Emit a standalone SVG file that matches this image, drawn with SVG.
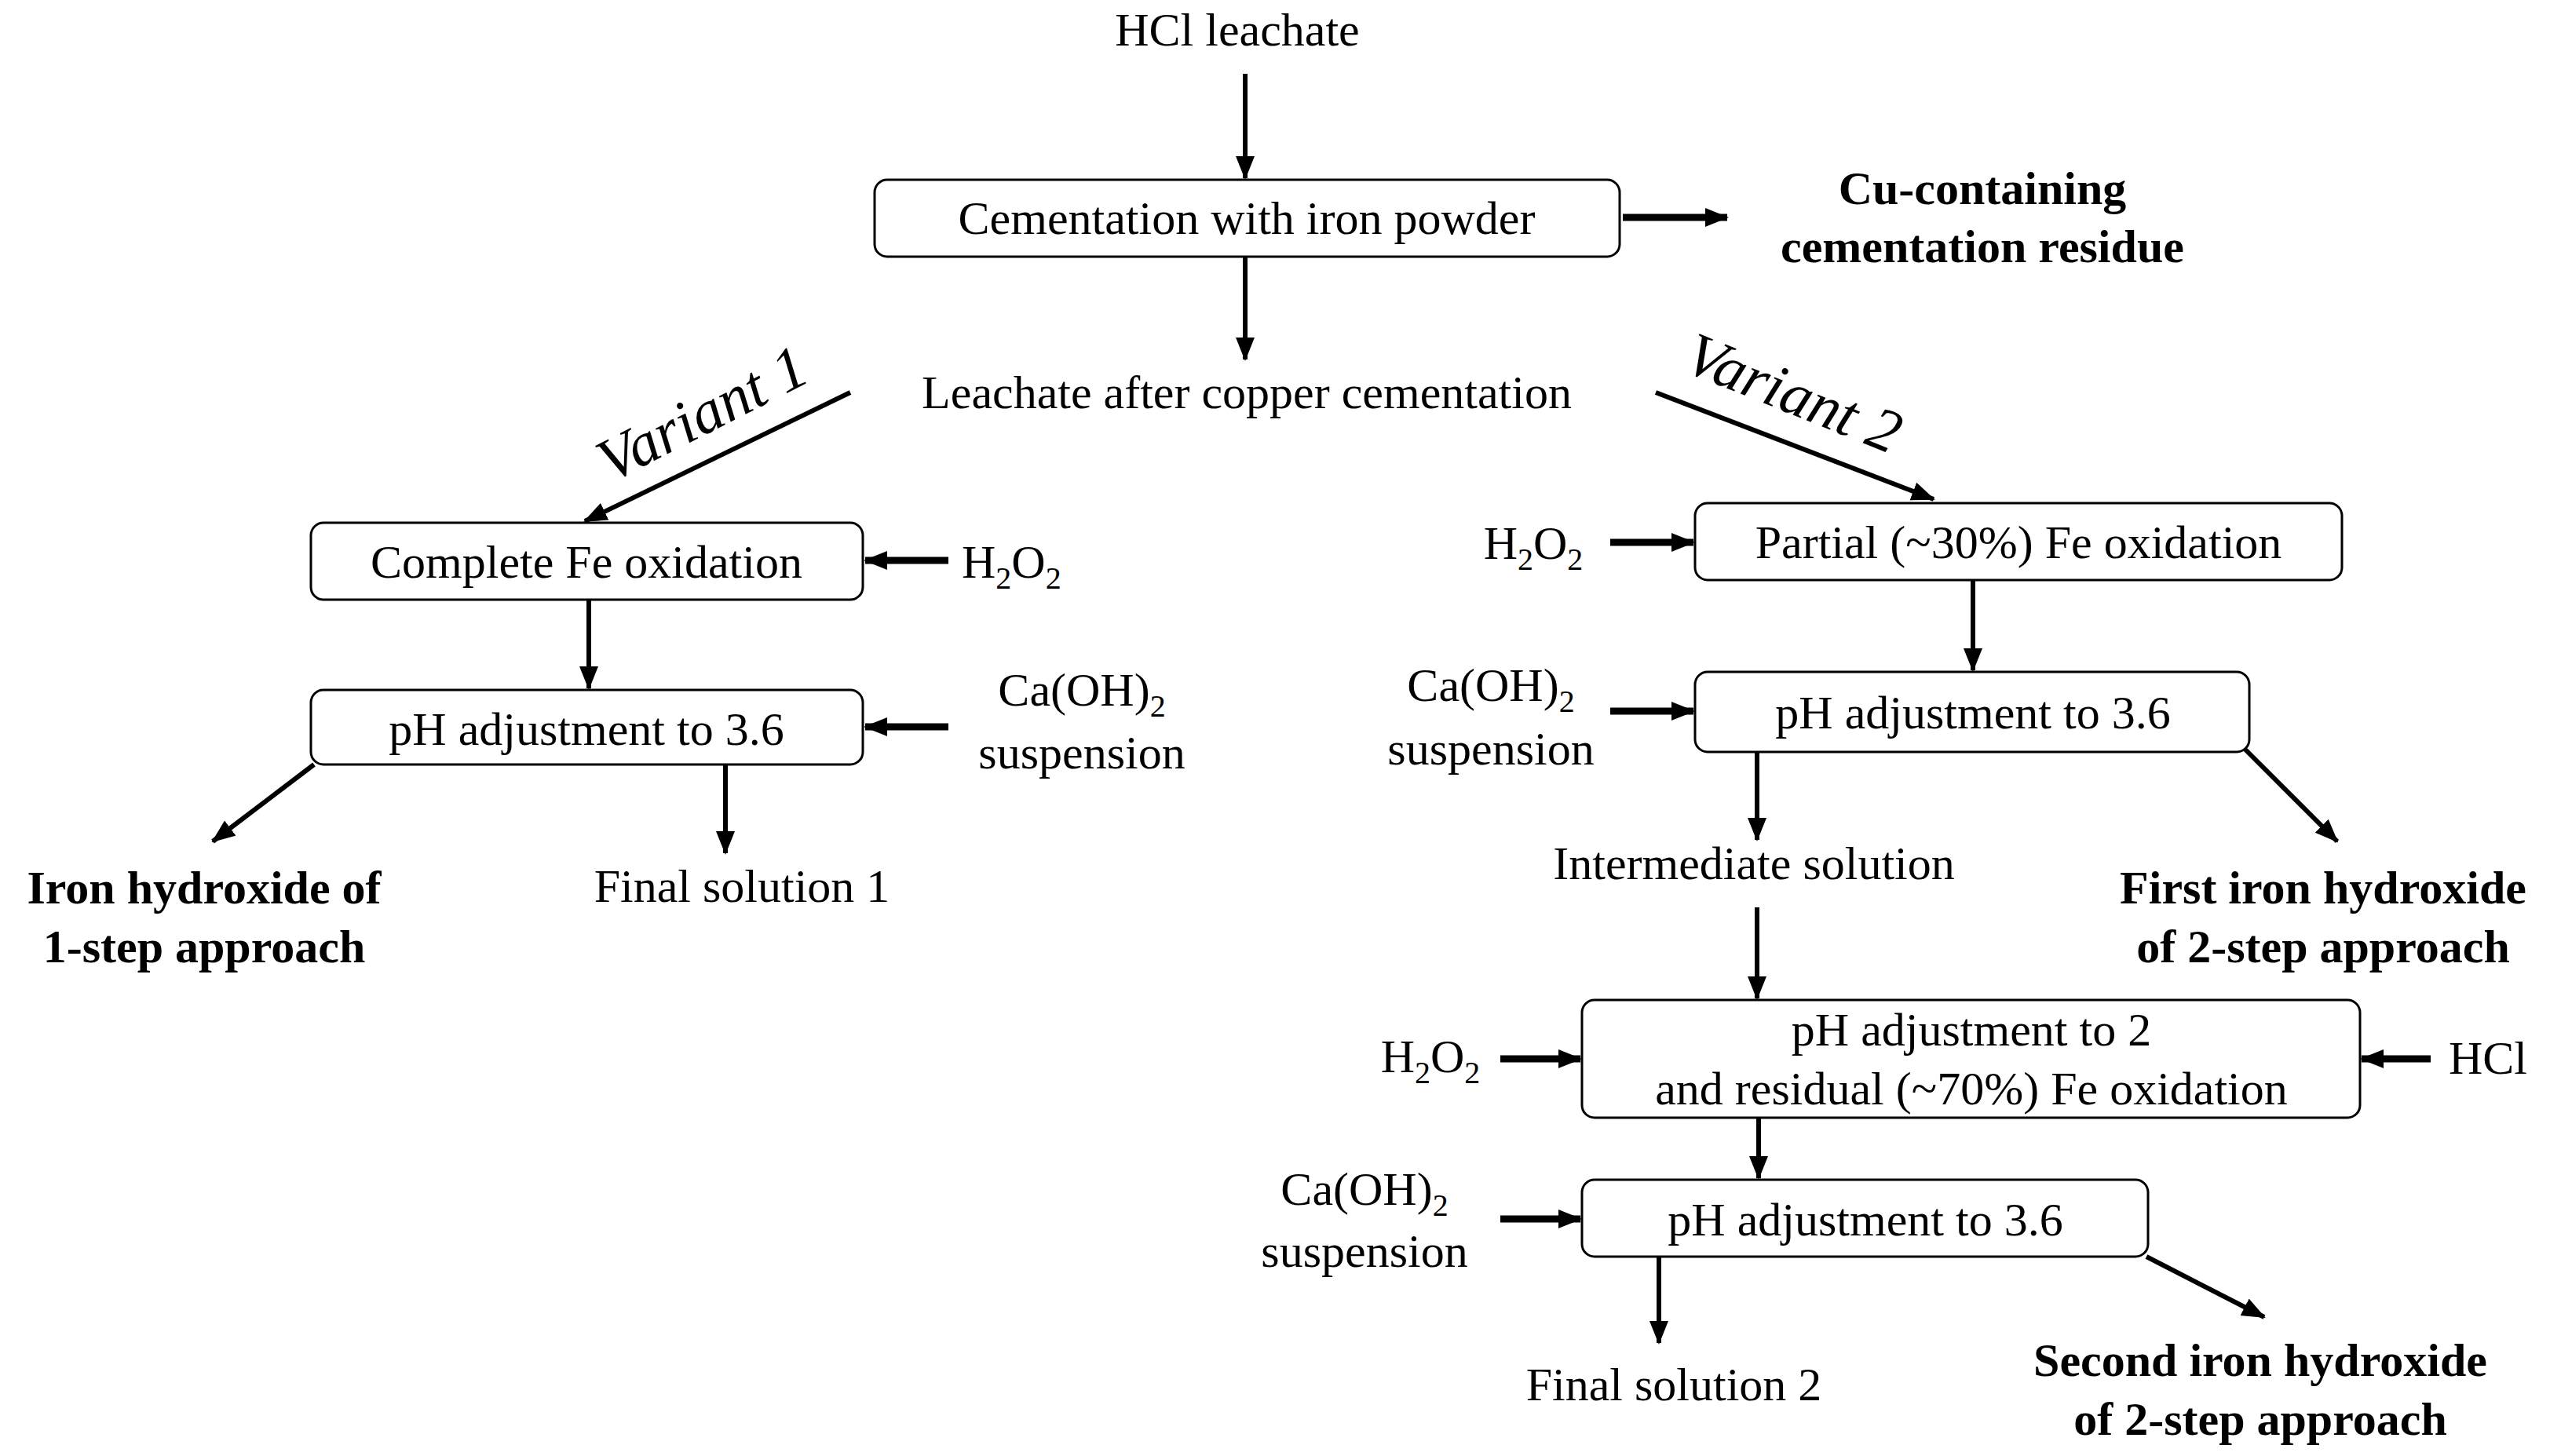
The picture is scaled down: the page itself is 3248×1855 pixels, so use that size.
<svg xmlns="http://www.w3.org/2000/svg" width="3248" height="1855" viewBox="0 0 3248 1855">
<style>
text{font-family:"Liberation Serif","Times New Roman",serif;font-size:60px;fill:#000;text-anchor:middle}
.b{font-weight:bold}
.v{font-style:italic;font-size:78px}
.s{font-size:40px}
.box{fill:#fff;stroke:#000;stroke-width:3}
.c line{stroke:#000;stroke-width:6;marker-end:url(#ah)}
.c line.t{stroke-width:9}
</style>
<defs>
<marker id="ah" markerUnits="userSpaceOnUse" markerWidth="30" markerHeight="30" refX="28" refY="12" orient="auto"><path d="M0,0 L30,12 L0,24 Z" fill="#000"/></marker>
</defs>
<rect width="3248" height="1855" fill="#fff"/>
<g class="c" id="connectors">
<line x1="1586" y1="94" x2="1586" y2="227"/>
<line class="t" x1="2067" y1="277" x2="2200" y2="277"/>
<line x1="1586" y1="327" x2="1586" y2="458"/>
<line x1="1083" y1="500" x2="745" y2="664"/>
<line x1="2109" y1="500" x2="2463" y2="636"/>
<line class="t" x1="1208" y1="714" x2="1102" y2="714"/>
<line x1="750" y1="764" x2="750" y2="877"/>
<line class="t" x1="1208" y1="926" x2="1102" y2="926"/>
<line x1="400" y1="974" x2="271" y2="1072"/>
<line x1="924" y1="974" x2="924" y2="1087"/>
<line class="t" x1="2051" y1="691" x2="2157" y2="691"/>
<line x1="2513" y1="739" x2="2513" y2="854"/>
<line class="t" x1="2051" y1="906" x2="2157" y2="906"/>
<line x1="2238" y1="958" x2="2238" y2="1070"/>
<line x1="2859" y1="954" x2="2977" y2="1072"/>
<line x1="2238" y1="1156" x2="2238" y2="1272"/>
<line class="t" x1="1911" y1="1349" x2="2013" y2="1349"/>
<line class="t" x1="3096" y1="1349" x2="3008" y2="1349"/>
<line x1="2240" y1="1424" x2="2240" y2="1501"/>
<line class="t" x1="1911" y1="1553" x2="2013" y2="1553"/>
<line x1="2113" y1="1601" x2="2113" y2="1711"/>
<line x1="2734" y1="1601" x2="2884" y2="1678"/>
</g>
<g id="hcl-leachate"><text x="1576" y="58">HCl leachate</text></g>
<g id="cementation"><rect class="box" x="1114" y="229" width="949" height="98" rx="16"/><text x="1588" y="298">Cementation with iron powder</text></g>
<g id="cu-residue"><text class="b" x="2525" y="260">Cu-containing</text><text class="b" x="2525" y="334">cementation residue</text></g>
<g id="leachate-after"><text x="1588" y="520">Leachate after copper cementation</text></g>
<g id="variant1"><text class="v" transform="translate(906,550) rotate(-27)">Variant 1</text></g>
<g id="variant2"><text class="v" transform="translate(2275,525) rotate(22)">Variant 2</text></g>
<g id="complete-fe"><rect class="box" x="396" y="666" width="703" height="98" rx="16"/><text x="747" y="736">Complete Fe oxidation</text></g>
<g id="h2o2-1"><text x="1225" y="736" style="text-anchor:start">H<tspan class="s" dy="14">2</tspan><tspan dy="-14">O</tspan><tspan class="s" dy="14">2</tspan></text></g>
<g id="ph36-1"><rect class="box" x="396" y="879" width="703" height="95" rx="16"/><text x="747" y="949">pH adjustment to 3.6</text></g>
<g id="caoh-1"><text x="1378" y="899">Ca(OH)<tspan class="s" dy="14">2</tspan></text><text x="1378" y="979">suspension</text></g>
<g id="iron-1step"><text class="b" x="260" y="1151">Iron hydroxide of</text><text class="b" x="260" y="1226">1-step approach</text></g>
<g id="final1"><text x="945" y="1149">Final solution 1</text></g>
<g id="h2o2-2"><text x="1953" y="712">H<tspan class="s" dy="14">2</tspan><tspan dy="-14">O</tspan><tspan class="s" dy="14">2</tspan></text></g>
<g id="partial-fe"><rect class="box" x="2159" y="641" width="824" height="98" rx="16"/><text x="2571" y="711">Partial (~30%) Fe oxidation</text></g>
<g id="caoh-2"><text x="1899" y="893">Ca(OH)<tspan class="s" dy="14">2</tspan></text><text x="1899" y="974">suspension</text></g>
<g id="ph36-2"><rect class="box" x="2159" y="856" width="706" height="102" rx="16"/><text x="2513" y="928">pH adjustment to 3.6</text></g>
<g id="intermediate"><text x="2234" y="1120">Intermediate solution</text></g>
<g id="first-iron"><text class="b" x="2959" y="1151">First iron hydroxide</text><text class="b" x="2959" y="1226">of 2-step approach</text></g>
<g id="ph2"><rect class="box" x="2015" y="1274" width="991" height="150" rx="16"/><text x="2511" y="1332">pH adjustment to 2</text><text x="2511" y="1407">and residual (~70%) Fe oxidation</text></g>
<g id="h2o2-3"><text x="1822" y="1366">H<tspan class="s" dy="14">2</tspan><tspan dy="-14">O</tspan><tspan class="s" dy="14">2</tspan></text></g>
<g id="hcl"><text x="3119" y="1368" style="text-anchor:start">HCl</text></g>
<g id="ph36-3"><rect class="box" x="2015" y="1503" width="721" height="98" rx="16"/><text x="2376" y="1574">pH adjustment to 3.6</text></g>
<g id="caoh-3"><text x="1738" y="1535">Ca(OH)<tspan class="s" dy="14">2</tspan></text><text x="1738" y="1614">suspension</text></g>
<g id="final2"><text x="2132" y="1784">Final solution 2</text></g>
<g id="second-iron"><text class="b" x="2879" y="1753">Second iron hydroxide</text><text class="b" x="2879" y="1828">of 2-step approach</text></g>
</svg>
